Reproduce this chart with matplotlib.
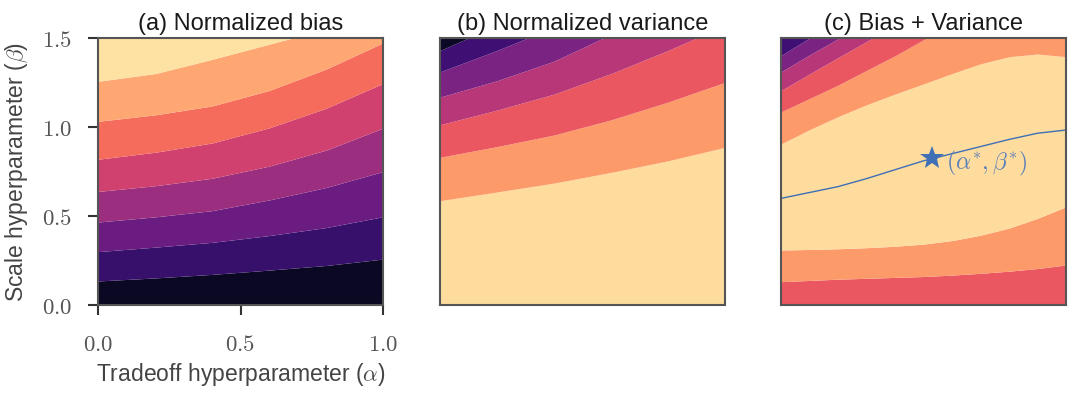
import numpy as np
import matplotlib
matplotlib.use('Agg')
import matplotlib.pyplot as plt

plt.rcParams['font.family'] = ['Liberation Sans', 'DejaVu Sans']
plt.rcParams['mathtext.fontset'] = 'cm'

# ---- data (contour band boundaries, beta vs alpha) ----
# (a) normalized bias, 8 bands, boundaries from bottom to top
alpha_a = [0.0, 0.2, 0.4, 0.6, 0.8, 1.0]
bias_b1 = [0.135, 0.152, 0.172, 0.196, 0.222, 0.258]
bias_b2 = [0.300, 0.325, 0.352, 0.390, 0.435, 0.496]
bias_b3 = [0.466, 0.495, 0.530, 0.590, 0.660, 0.750]
bias_b4 = [0.638, 0.670, 0.712, 0.780, 0.870, 0.994]
bias_b5 = [0.819, 0.858, 0.910, 0.995, 1.105, 1.245]
bias_b6 = [1.032, 1.068, 1.118, 1.205, 1.325, 1.473]
bias_b7 = [1.257, 1.300, 1.380, 1.465, 1.550, 1.700]

# (b) normalized variance, 7 bands, boundaries from bottom to top
alpha_b = [0.0, 0.2, 0.4, 0.6, 0.8, 1.0]
var_v1 = [0.586, 0.635, 0.685, 0.745, 0.810, 0.886]
var_v2 = [0.830, 0.890, 0.955, 1.040, 1.140, 1.251]
var_v3 = [1.013, 1.095, 1.185, 1.300, 1.430, 1.570]
var_v4 = [1.168, 1.260, 1.370, 1.520, 1.660, 1.800]
var_v5 = [1.310, 1.430, 1.560, 1.700, 1.840, 1.980]
var_v6 = [1.430, 1.570, 1.710, 1.850, 2.000, 2.150]

# (c) bias + variance
alpha_c = [0.0, 0.1, 0.2, 0.3, 0.4, 0.5, 0.6, 0.7, 0.8, 0.9, 1.0]
tot_low1 = [0.131, 0.138, 0.145, 0.150, 0.155, 0.160, 0.168, 0.178, 0.190, 0.205, 0.225]
tot_low2 = [0.309, 0.312, 0.316, 0.322, 0.330, 0.342, 0.362, 0.392, 0.432, 0.487, 0.552]
tot_up1 = [0.905, 0.985, 1.058, 1.125, 1.185, 1.242, 1.300, 1.355, 1.395, 1.410, 1.395]
tot_up2 = [1.085, 1.160, 1.235, 1.318, 1.400, 1.490, 1.580, 1.670, 1.760, 1.850, 1.940]
tot_up3 = [1.205, 1.298, 1.390, 1.480, 1.570, 1.660, 1.750, 1.840, 1.930, 2.020, 2.110]
tot_up4 = [1.310, 1.405, 1.495, 1.585, 1.675, 1.765, 1.855, 1.945, 2.035, 2.125, 2.215]
tot_up5 = [1.402, 1.500, 1.600, 1.700, 1.800, 1.900, 2.000, 2.100, 2.200, 2.300, 2.400]

# optimal beta for each alpha, and the optimum
opt_beta = [0.599, 0.632, 0.665, 0.710, 0.760, 0.810, 0.850, 0.890, 0.930, 0.965, 0.983]
alpha_star = 0.53
beta_star = 0.825

titles = ['(a) Normalized bias', '(b) Normalized variance', '(c) Bias + Variance']

cmap = plt.get_cmap('magma')
col8 = [cmap((i + 0.5) / 8) for i in range(8)]
col7 = [cmap((i + 0.5) / 7) for i in range(7)]
BLUE = '#3f6fb5'


def fill_bands(ax, x, bounds, colors):
    for lo, hi, c in zip(bounds[:-1], bounds[1:], colors):
        ax.fill_between(x, lo, hi, color=c, linewidth=0)


fig = plt.figure(figsize=(10.8, 3.94), dpi=100)
lefts = [98, 440, 781]
axes = [fig.add_axes([l / 1080, 1 - 305 / 394, 285 / 1080, 267 / 394]) for l in lefts]

# panel a
xa = np.array(alpha_a)
bounds_a = [np.zeros_like(xa), bias_b1, bias_b2, bias_b3, bias_b4, bias_b5, bias_b6, bias_b7,
            np.full_like(xa, 1.5)]
fill_bands(axes[0], xa, bounds_a, col8)

# panel b
xb = np.array(alpha_b)
bounds_b = [np.zeros_like(xb), var_v1, var_v2, var_v3, var_v4, var_v5, var_v6, np.full_like(xb, 2.5)]
fill_bands(axes[1], xb, bounds_b, col7[::-1])

# panel c
xc = np.array(alpha_c)
bounds_c = [np.zeros_like(xc), tot_low1, tot_low2, tot_up1, tot_up2, tot_up3, tot_up4, tot_up5,
            np.full_like(xc, 2.5)]
colors_c = [col7[4], col7[5], col7[6], col7[5], col7[4], col7[3], col7[2], col7[1]]
fill_bands(axes[2], xc, bounds_c, colors_c)
axes[2].plot(xc, opt_beta, color=BLUE, lw=1.0)
axes[2].plot([alpha_star], [beta_star], marker='*', ms=18, color=BLUE, mew=0)
axes[2].text(alpha_star + 0.05, beta_star - 0.03, r'$(\alpha^{*},\beta^{*})$', color='#5b7fb8',
             fontsize=17, va='center', ha='left')

for ax, t in zip(axes, titles):
    ax.set_xlim(0, 1)
    ax.set_ylim(0, 1.5)
    ax.set_title(t, fontsize=17, color='#1a1a1a', pad=6)
    for s in ax.spines.values():
        s.set_color('#555555')
        s.set_linewidth(1.5)
    ax.set_xticks([])
    ax.set_yticks([])

ax = axes[0]
ax.set_xticks([0, 0.5, 1.0])
ax.set_xticklabels(['$0.0$', '$0.5$', '$1.0$'])
ax.set_yticks([0, 0.5, 1.0, 1.5])
ax.set_yticklabels(['$0.0$', '$0.5$', '$1.0$', '$1.5$'])
ax.tick_params(axis='both', length=7.5, width=1.5, color='#333333', labelcolor='#555555', labelsize=16.5)
ax.tick_params(axis='x', pad=13)
ax.tick_params(axis='y', pad=11)
ax.set_xlabel(r'Tradeoff hyperparameter ($\alpha$)', fontsize=16.5, color='#444444', labelpad=3)
ax.set_ylabel(r'Scale hyperparameter ($\beta$)', fontsize=16.5, color='#444444', labelpad=9)

fig.savefig('out.png', dpi=100)
